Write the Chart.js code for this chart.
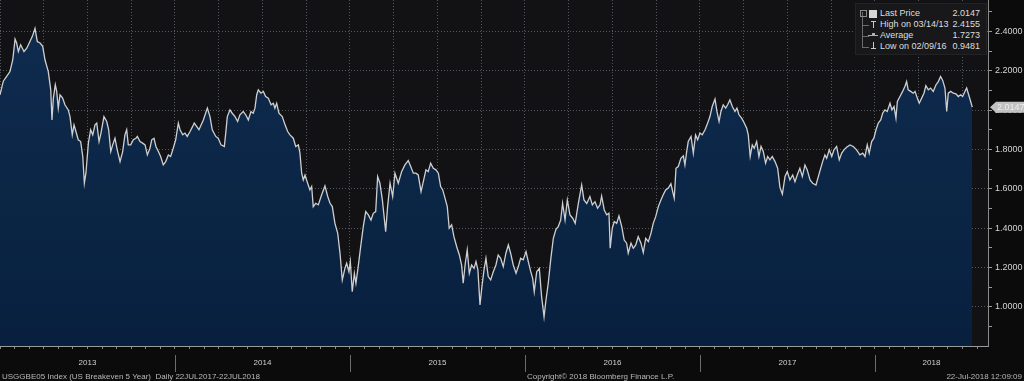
<!DOCTYPE html>
<html><head><meta charset="utf-8">
<script src="https://cdn.jsdelivr.net/npm/chart.js@4.4.1/dist/chart.umd.min.js"></script>
<style>
html,body{margin:0;padding:0;background:#0b0b0c;}
#wrap{position:relative;width:1024px;height:381px;overflow:hidden;background:#0b0b0c;}
#c{position:absolute;left:0;top:0;}
.ft{position:absolute;top:372px;font:8px "Liberation Sans",Arial,sans-serif;color:#b8b8b8;white-space:pre;line-height:9px;}
#legend{position:absolute;left:855px;top:3px;width:132px;height:52px;background:#18181a;border:1px solid #232326;box-sizing:border-box;font:9px "Liberation Sans",Arial,sans-serif;color:#dedede;}
.row{position:absolute;left:0;width:100%;height:11px;line-height:11px;}
.lab{position:absolute;left:24px;top:0;}
.val{position:absolute;right:6px;top:0;}
.ic{position:absolute;background:#9a9a9a;}
</style></head>
<body>
<div id="wrap">
<canvas id="c" width="1024" height="381"></canvas>
<div id="legend">
  <div class="ic" style="left:6px;top:8px;width:1px;height:36px;background:#6a6a6a"></div>
  <div class="ic" style="left:4px;top:6px;width:5px;height:5px;background:none;border:1px solid #8a8a8a"></div>
  <div class="ic" style="left:7px;top:21px;width:6px;height:1px;background:#6a6a6a"></div>
  <div class="ic" style="left:7px;top:32px;width:6px;height:1px;background:#6a6a6a"></div>
  <div class="ic" style="left:7px;top:43px;width:6px;height:1px;background:#6a6a6a"></div>
  <div class="ic" style="left:13px;top:6px;width:8px;height:8px;background:#d6d6d6"></div>
  <div class="ic" style="left:15px;top:17px;width:5px;height:1px;background:#c8c8c8"></div>
  <div class="ic" style="left:17px;top:17px;width:1px;height:7px;background:#c8c8c8"></div>
  <div class="ic" style="left:12px;top:31px;width:10px;height:1px;background:#b0b0b0"></div>
  <div class="ic" style="left:16px;top:29px;width:3px;height:3px;background:#b0b0b0"></div>
  <div class="ic" style="left:17px;top:38px;width:1px;height:7px;background:#c8c8c8"></div>
  <div class="ic" style="left:15px;top:44px;width:5px;height:1px;background:#c8c8c8"></div>
  <div class="row" style="top:4px"><span class="lab" id="l0"></span><span class="val" id="v0"></span></div>
  <div class="row" style="top:15px"><span class="lab" id="l1"></span><span class="val" id="v1"></span></div>
  <div class="row" style="top:25.5px"><span class="lab" id="l2"></span><span class="val" id="v2"></span></div>
  <div class="row" style="top:36.5px"><span class="lab" id="l3"></span><span class="val" id="v3"></span></div>
</div>
<div class="ft" style="left:2px">USGGBE05 Index (US Breakeven 5 Year)  Daily 22JUL2017-22JUL2018</div>
<div class="ft" style="left:527px">Copyright© 2018 Bloomberg Finance L.P.</div>
<div class="ft" style="right:2px">22-Jul-2018 12:09:09</div>
</div>
<script>
// ---- data: fraction of year (t) and breakeven value, per year ----
const t2013 = [0.000,0.019,0.038,0.057,0.073,0.086,0.095,0.105,0.118,0.137,0.153,0.171,0.185,0.200,0.213,0.229,0.244,0.257,0.276,0.290,0.297,0.305,0.316,0.324,0.333,0.343,0.358,0.371,0.390,0.400,0.413,0.423,0.434,0.447,0.461,0.473,0.482,0.491,0.505,0.518,0.530,0.543,0.553,0.566,0.577,0.594,0.610,0.621,0.633,0.644,0.657,0.670,0.686,0.701,0.714,0.724,0.733,0.747,0.762,0.777,0.785,0.800,0.815,0.829,0.842,0.857,0.867,0.880,0.891,0.905,0.918,0.933,0.947,0.962,0.975,0.990];
const v2013 = [2.078,2.147,2.171,2.196,2.256,2.361,2.341,2.298,2.332,2.298,2.315,2.349,2.375,2.4155,2.349,2.341,2.324,2.256,2.196,2.103,1.950,2.061,2.129,2.095,2.010,2.078,2.061,2.027,2.001,1.967,1.874,1.925,1.891,1.849,1.840,1.764,1.628,1.679,1.832,1.900,1.874,1.925,1.934,1.840,1.883,1.967,1.942,1.900,1.789,1.823,1.857,1.798,1.738,1.789,1.874,1.900,1.823,1.823,1.849,1.857,1.866,1.840,1.832,1.823,1.772,1.806,1.849,1.857,1.815,1.789,1.764,1.721,1.738,1.772,1.764,1.806];
const t2014 = [0.004,0.019,0.029,0.044,0.057,0.070,0.086,0.101,0.110,0.137,0.162,0.185,0.200,0.213,0.233,0.247,0.263,0.282,0.290,0.299,0.314,0.327,0.343,0.358,0.371,0.390,0.404,0.419,0.434,0.447,0.457,0.467,0.476,0.491,0.505,0.518,0.533,0.549,0.562,0.571,0.581,0.594,0.613,0.629,0.644,0.657,0.676,0.690,0.705,0.714,0.724,0.733,0.743,0.758,0.771,0.781,0.790,0.804,0.819,0.838,0.857,0.873,0.886,0.899,0.914,0.930,0.943,0.956,0.971,0.981,0.994];
const v2014 = [1.849,1.934,1.900,1.874,1.883,1.866,1.891,1.917,1.934,1.900,1.950,2.010,1.967,1.900,1.866,1.857,1.823,1.815,1.883,1.967,2.001,1.984,1.967,1.942,1.976,1.993,1.976,1.950,1.993,1.984,2.010,2.078,2.103,2.086,2.095,2.069,2.061,2.027,2.035,2.010,2.035,1.984,1.967,1.925,1.891,1.874,1.857,1.815,1.823,1.781,1.679,1.645,1.670,1.628,1.594,1.611,1.509,1.526,1.518,1.569,1.614,1.560,1.526,1.509,1.424,1.373,1.272,1.136,1.195,1.221,1.178];
const t2015 = [0.002,0.013,0.025,0.034,0.047,0.061,0.076,0.090,0.105,0.120,0.133,0.147,0.158,0.171,0.185,0.204,0.215,0.229,0.244,0.257,0.276,0.295,0.314,0.333,0.347,0.362,0.377,0.390,0.406,0.419,0.434,0.447,0.461,0.476,0.491,0.505,0.518,0.530,0.543,0.556,0.567,0.581,0.594,0.610,0.625,0.638,0.647,0.659,0.670,0.682,0.695,0.709,0.720,0.731,0.743,0.754,0.766,0.777,0.790,0.804,0.819,0.834,0.847,0.861,0.876,0.891,0.905,0.918,0.933,0.949,0.962,0.975,0.990];
const v2015 = [1.229,1.076,1.170,1.119,1.204,1.305,1.407,1.484,1.467,1.441,1.475,1.484,1.662,1.628,1.543,1.382,1.509,1.628,1.560,1.679,1.628,1.687,1.721,1.743,1.713,1.679,1.679,1.670,1.585,1.636,1.696,1.687,1.730,1.704,1.696,1.679,1.611,1.594,1.552,1.509,1.399,1.416,1.356,1.305,1.263,1.212,1.119,1.221,1.289,1.170,1.212,1.195,1.229,1.187,1.009,1.102,1.187,1.246,1.153,1.136,1.178,1.212,1.263,1.246,1.204,1.272,1.314,1.272,1.212,1.170,1.204,1.246,1.238];
const t2016 = [0.006,0.019,0.033,0.044,0.053,0.067,0.082,0.095,0.109,0.120,0.133,0.147,0.162,0.177,0.190,0.204,0.215,0.229,0.242,0.257,0.273,0.287,0.305,0.324,0.337,0.353,0.371,0.385,0.400,0.415,0.429,0.438,0.453,0.467,0.480,0.487,0.499,0.510,0.524,0.537,0.553,0.567,0.581,0.590,0.606,0.619,0.633,0.647,0.663,0.676,0.690,0.705,0.720,0.733,0.747,0.762,0.777,0.790,0.804,0.819,0.834,0.844,0.853,0.863,0.876,0.891,0.905,0.914,0.924,0.933,0.949,0.962,0.975,0.987];
const v2016 = [1.280,1.229,1.178,1.144,1.076,1.178,1.195,1.051,0.9481,1.034,1.119,1.238,1.348,1.394,1.407,1.441,1.526,1.441,1.543,1.467,1.450,1.424,1.526,1.619,1.543,1.525,1.560,1.518,1.534,1.501,1.518,1.563,1.492,1.467,1.475,1.297,1.399,1.433,1.424,1.462,1.407,1.339,1.323,1.272,1.323,1.297,1.314,1.356,1.323,1.275,1.348,1.331,1.373,1.424,1.458,1.509,1.543,1.569,1.594,1.603,1.625,1.585,1.552,1.704,1.713,1.755,1.767,1.721,1.789,1.840,1.866,1.781,1.874,1.849];
const t2017 = [0.000,0.013,0.029,0.044,0.057,0.070,0.086,0.097,0.109,0.120,0.133,0.147,0.158,0.171,0.185,0.200,0.211,0.223,0.238,0.253,0.267,0.276,0.287,0.299,0.310,0.324,0.337,0.349,0.362,0.375,0.387,0.400,0.413,0.429,0.444,0.457,0.471,0.486,0.499,0.514,0.530,0.543,0.556,0.571,0.585,0.600,0.613,0.629,0.644,0.663,0.682,0.701,0.714,0.724,0.739,0.753,0.766,0.781,0.796,0.810,0.823,0.838,0.857,0.876,0.895,0.914,0.930,0.943,0.956,0.967,0.981,0.994];
const v2017 = [1.883,1.874,1.900,1.934,1.967,2.018,2.056,1.993,1.942,1.993,2.027,2.010,2.027,2.052,2.018,1.993,2.010,1.976,1.959,1.934,1.908,1.874,1.764,1.823,1.806,1.840,1.764,1.815,1.789,1.730,1.764,1.747,1.764,1.738,1.704,1.607,1.573,1.662,1.687,1.645,1.670,1.636,1.670,1.704,1.662,1.721,1.696,1.645,1.628,1.619,1.679,1.738,1.772,1.755,1.798,1.764,1.798,1.815,1.747,1.781,1.798,1.811,1.823,1.815,1.798,1.772,1.781,1.764,1.823,1.781,1.840,1.857];
const t2018 = [0.006,0.019,0.033,0.044,0.057,0.070,0.086,0.097,0.109,0.120,0.128,0.143,0.158,0.171,0.181,0.190,0.204,0.219,0.229,0.242,0.253,0.267,0.280,0.291,0.305,0.318,0.333,0.349,0.362,0.375,0.387,0.400,0.410,0.419,0.433,0.448,0.463,0.476,0.490,0.501,0.514,0.524,0.533,0.547,0.556];
const v2018 = [1.900,1.934,1.950,1.984,2.001,1.993,2.035,2.001,2.018,1.959,2.044,2.069,2.095,2.120,2.145,2.103,2.095,2.086,2.095,2.061,2.035,2.061,2.086,2.124,2.103,2.112,2.095,2.129,2.145,2.171,2.151,2.112,1.993,2.086,2.095,2.086,2.083,2.069,2.078,2.069,2.095,2.112,2.086,2.044,2.0147];

const years = [2013, 2014, 2015, 2016, 2017, 2018];
const yearLabels = ['2013', '2014', '2015', '2016', '2017', '2018'];
const yTickLabels = ['1.0000', '1.2000', '1.4000', '1.6000', '1.8000', '2.0000', '2.2000', '2.4000'];
const legendLabels = ['Last Price', 'High on 03/14/13', 'Average', 'Low on 02/09/16'];
const legendValues = ['2.0147', '2.4155', '1.7273', '0.9481'];
const lastPrice = 2.0147;

// ---- build ----
const tFrac = [t2013, t2014, t2015, t2016, t2017, t2018];
const vals = [v2013, v2014, v2015, v2016, v2017, v2018];
const points = [];
years.forEach((yr, k) => tFrac[k].forEach((t, i) => points.push({ x: yr + t, y: vals[k][i] })));

legendLabels.forEach((s, i) => { document.getElementById('l' + i).textContent = s; document.getElementById('v' + i).textContent = legendValues[i]; });

const X_MIN = 2013, X_MAX = 2018.646;
const FONT = '"Liberation Sans", Arial, sans-serif';
const GRID = 'rgba(125,135,150,0.6)';

const bgPlugin = {
  id: 'bg',
  beforeDraw(chart) {
    const { ctx, chartArea: a } = chart;
    ctx.save();
    ctx.fillStyle = '#121214';
    ctx.fillRect(a.left, a.top, a.right - a.left, a.bottom - a.top);
    ctx.restore();
  },
  afterDraw(chart) {
    const { ctx, chartArea: a, scales } = chart;
    ctx.save();
    // year separators under the axis
    ctx.strokeStyle = '#6c6c6c';
    ctx.lineWidth = 1;
    years.slice(1).forEach(yr => {
      const x = Math.round(scales.x.getPixelForValue(yr)) + 0.5;
      ctx.beginPath(); ctx.moveTo(x, a.bottom + 9); ctx.lineTo(x, a.bottom + 26); ctx.stroke();
    });
    // last price tag
    const y = scales.y.getPixelForValue(lastPrice);
    const x0 = a.right + 2;
    ctx.fillStyle = '#c2c2c2';
    ctx.beginPath();
    ctx.moveTo(x0, y); ctx.lineTo(x0 + 6, y - 5.5); ctx.lineTo(1024, y - 5.5); ctx.lineTo(1024, y + 5.5); ctx.lineTo(x0 + 6, y + 5.5); ctx.closePath();
    ctx.fill();
    ctx.fillStyle = '#ececec';
    ctx.font = '9px ' + FONT;
    ctx.textBaseline = 'middle';
    ctx.fillText(lastPrice.toFixed(4), x0 + 7, y + 0.5);
    ctx.restore();
  }
};

new Chart(document.getElementById('c'), {
  type: 'line',
  data: {
    datasets: [{
      data: points,
      borderColor: '#cfcfcf',
      borderWidth: 1.3,
      pointRadius: 0,
      tension: 0,
      fill: 'start',
      backgroundColor(c) {
        const a = c.chart.chartArea;
        if (!a) return '#0b2646';
        const g = c.chart.ctx.createLinearGradient(0, a.top, 0, a.bottom);
        g.addColorStop(0, '#0f2c4f');
        g.addColorStop(1, '#08203e');
        return g;
      }
    }]
  },
  options: {
    responsive: false,
    animation: false,
    layout: { padding: 0 },
    plugins: { legend: { display: false }, tooltip: { enabled: false } },
    scales: {
      x: {
        type: 'linear',
        min: X_MIN, max: X_MAX,
        afterFit(s) { s.height = 35; s.paddingLeft = 0; s.paddingRight = 0; },
        afterBuildTicks(s) {
          const ticks = [];
          for (let m = 0; X_MIN + m / 12 <= X_MAX + 1e-9; m++) ticks.push({ value: X_MIN + m / 12, q: m % 3 === 0 });
          years.forEach((yr, i) => {
            const end = Math.min(yr + 1, X_MAX);
            ticks.push({ value: (yr + end) / 2, label: yearLabels[i], yl: true });
          });
          s.ticks = ticks;
        },
        ticks: {
          autoSkip: false, maxRotation: 0, minRotation: 0,
          color: '#cfcfcf', font: { size: 8, family: FONT }, padding: 9,
          callback(v, i, ticks) { return ticks[i].label || ''; }
        },
        grid: {
          color(c) { return (c.tick && c.tick.q) ? GRID : 'rgba(0,0,0,0)'; },
          tickColor(c) { return (c.tick && !c.tick.yl) ? '#8a8a8a' : 'rgba(0,0,0,0)'; },
          tickLength: 3, lineWidth: 1
        },
        border: { display: true, color: '#9a9a9a', width: 1, dash: [1, 2] }
      },
      y: {
        type: 'linear', position: 'right',
        min: 0.8, max: 2.56,
        afterFit(s) { s.width = 36; s.paddingTop = 0; s.paddingBottom = 0; },
        afterBuildTicks(s) {
          const ticks = [];
          for (let k = 9; k <= 25; k++) ticks.push({ value: k / 10, major: k % 2 === 0 && k >= 10 && k <= 24 });
          s.ticks = ticks;
        },
        ticks: {
          color: '#d4d4d4', font: { size: 9, family: FONT }, padding: 3,
          callback(v, i, ticks) {
            if (!ticks[i].major) return '';
            return yTickLabels[Math.round((v - 1) / 0.2)];
          }
        },
        grid: {
          color(c) { return (c.tick && c.tick.major) ? GRID : 'rgba(0,0,0,0)'; },
          tickColor: '#9a9a9a', tickLength: 4, lineWidth: 1
        },
        border: { display: true, color: '#8a8a8a', width: 1, dash: [1, 2] }
      }
    }
  },
  plugins: [bgPlugin]
});
</script>
</body></html>
